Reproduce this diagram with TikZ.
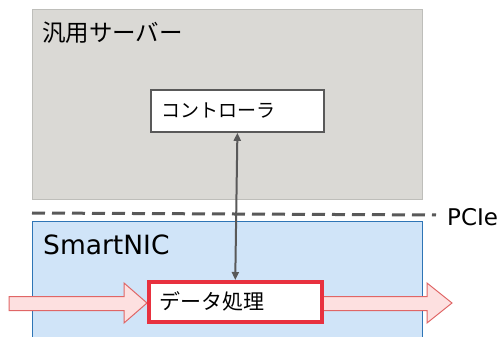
\documentclass[tikz,border=0pt]{standalone}
\usepackage{fontspec}
\newfontfamily\jp{Noto Sans CJK JP}
\newfontfamily\lat{DejaVu Sans}
\usetikzlibrary{arrows.meta}
\definecolor{srvfill}{HTML}{DAD9D5}
\definecolor{srvline}{HTML}{BEBEBA}
\definecolor{darkg}{HTML}{595959}
\definecolor{nicfill}{HTML}{D0E4F8}
\definecolor{nicline}{HTML}{2E75B6}
\definecolor{redb}{HTML}{E8313F}
\definecolor{pinkf}{HTML}{FDE0E0}
\definecolor{pinkl}{HTML}{E06666}
\tikzset{
  area/.style={line width=1pt},
  title/.style={anchor=west, inner sep=0pt},
  flow/.style={fill=pinkf, draw=pinkl, line width=1pt, line join=miter},
  unit/.style={fill=white, minimum width=173pt, minimum height=42pt, inner xsep=9pt, text width=152pt, align=left, anchor=north west}
}
\begin{document}
\begin{tikzpicture}[x=1pt,y=-1pt]
\useasboundingbox (0,0) rectangle (499,337);
% server
\draw[area, fill=srvfill, draw=srvline] (32,10) rectangle (422,200);
\node[title, font=\jp\fontsize{23.5}{25}\selectfont] (srv) at (42,33) {汎用サーバー};
% PCIe line
\draw[darkg, line width=3pt, dash pattern=on 13pt off 7pt] (32,213) -- (436,215);
\node[title, font=\lat\fontsize{23}{25}\selectfont] (pcie) at (447,217) {PCIe};
% SmartNIC
\draw[area, fill=nicfill, draw=nicline] (32,222) rectangle (422,345);
\node[title, font=\lat\fontsize{26.5}{28}\selectfont] (nic) at (43,245) {SmartNIC};
% flow arrows
\draw[flow] (9,296.5) -- (124,296.5) -- (124,283) -- (147,303) -- (124,323) -- (124,310.5) -- (9,310.5) -- cycle;
\draw[flow] (318,296.5) -- (427,296.5) -- (427,283) -- (452,303) -- (427,323) -- (427,310.5) -- (318,310.5) -- cycle;
% controller
\node[unit, draw=darkg, line width=1.8pt, font=\jp\fontsize{19}{21}\selectfont] (ctrl) at (150,89) {コントローラ};
% data processing
\node[unit, draw=redb, line width=3.5pt, minimum height=40pt, font=\jp\fontsize{21}{23}\selectfont] (dp) at (147,280) {データ処理};
% link
\draw[darkg, line width=2pt, {Triangle[length=8pt,width=7pt]}-{Triangle[length=8pt,width=7pt]}] (ctrl.south) -- (dp.north);
\end{tikzpicture}
\end{document}
